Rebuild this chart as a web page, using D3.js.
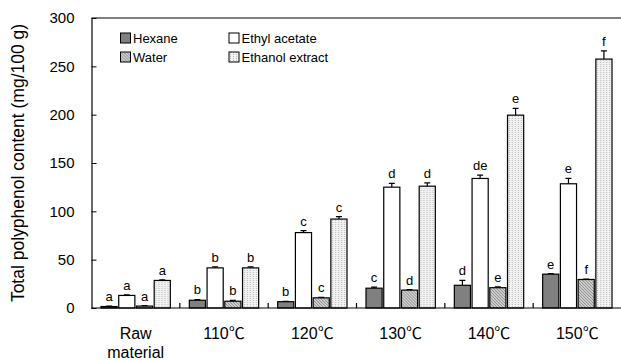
<!DOCTYPE html>
<html>
<head>
<meta charset="utf-8">
<script src="https://cdn.jsdelivr.net/npm/d3@7"></script>
<style>
  body { margin: 0; background: #fff; }
  text { font-family: "Liberation Sans", Arial, "Noto Sans CJK SC", sans-serif; fill: #000; }
  .cjk { font-family: "Noto Sans CJK JP", "Noto Sans CJK SC", sans-serif; }
</style>
</head>
<body>
<div id="chart"></div>
<script>
// data
var categories = ["Raw material", "110℃", "120℃", "130℃", "140℃", "150℃"];
var seriesNames = ["Hexane", "Ethyl acetate", "Water", "Ethanol extract"];

var hexane = [1.5, 8, 6.5, 20.5, 23.5, 35];
var ethyl = [13, 41.5, 78, 125, 134, 128.5];
var water = [2, 7, 10.5, 18.5, 21, 29.5];
var ethanol = [28.5, 41.5, 92, 126, 199.5, 257.5];

var hexaneErr = [0.5, 0.8, 0.5, 1, 5, 0.5];
var ethylErr = [0.5, 1, 2, 4, 3.5, 5.5];
var waterErr = [0.5, 0.8, 0.5, 0.5, 1, 0.5];
var ethanolErr = [0.5, 1, 2.5, 3.5, 7, 8.5];

var hexaneSig = ["a", "b", "b", "c", "d", "e"];
var ethylSig = ["a", "b", "c", "d", "de", "e"];
var waterSig = ["a", "b", "c", "d", "e", "f"];
var ethanolSig = ["a", "b", "c", "d", "e", "f"];

var yTicks = [0, 50, 100, 150, 200, 250, 300];

var svgWidth = 621;
var svgHeight = 360;

var margin = { top: 18, right: 0, bottom: 52, left: 91.5 };
var chartWidth = 530;
var chartHeight = svgHeight - margin.top - margin.bottom;

var svg = d3.select("#chart")
  .append("svg")
  .attr("width", svgWidth)
  .attr("height", svgHeight);

// fill patterns
var defs = svg.append("defs");

var hatch = defs.append("pattern")
  .attr("id", "hatch")
  .attr("patternUnits", "userSpaceOnUse")
  .attr("width", 3).attr("height", 3);
hatch.append("rect").attr("width", 3).attr("height", 3).attr("fill", "#d0d0d0");
hatch.append("path").attr("d", "M0,0 L3,3 M-1,2 L1,4 M2,-1 L4,1")
  .attr("stroke", "#8a8a8a").attr("stroke-width", 1);

var stripes = defs.append("pattern")
  .attr("id", "stripes")
  .attr("patternUnits", "userSpaceOnUse")
  .attr("width", 3).attr("height", 2);
stripes.append("rect").attr("width", 3).attr("height", 2).attr("fill", "#f2f2f2");
stripes.append("rect").attr("x", 1).attr("width", 1).attr("height", 1).attr("fill", "#b8b8b8");

var fills = ["#808080", "#ffffff", "url(#hatch)", "url(#stripes)"];

var values = [hexane, ethyl, water, ethanol];
var errors = [hexaneErr, ethylErr, waterErr, ethanolErr];
var sigs = [hexaneSig, ethylSig, waterSig, ethanolSig];

var chartGroup = svg.append("g")
  .attr("transform", `translate(${margin.left}, ${margin.top})`);

// scales
var x0 = d3.scaleBand()
  .domain(categories)
  .range([0, chartWidth]);

var x1 = d3.scaleBand()
  .domain(seriesNames)
  .range([9.5, x0.bandwidth() - 9.5])
  .paddingInner(0.09);

var y = d3.scaleLinear()
  .domain([0, 300])
  .range([chartHeight, 0]);

// frame top line
chartGroup.append("line")
  .attr("x1", 0).attr("x2", chartWidth + 2)
  .attr("y1", 0).attr("y2", 0)
  .attr("stroke", "#000").attr("stroke-width", 1.2);

// y axis, ticks pointing in
var leftAxis = d3.axisLeft(y)
  .tickValues(yTicks)
  .tickSizeInner(-5)
  .tickSizeOuter(0)
  .tickPadding(17);

var yAxisG = chartGroup.append("g").call(leftAxis);
yAxisG.select(".domain").attr("stroke-width", 1.2);
yAxisG.selectAll("text").attr("font-size", 15);

// bars
var groups = chartGroup.selectAll(".cat")
  .data(categories)
  .enter()
  .append("g")
  .attr("transform", d => `translate(${x0(d)}, 0)`);

var barData = function(cat, i) {
  return seriesNames.map(function(s, k) {
    return { series: s, k: k, value: values[k][i], err: errors[k][i], sig: sigs[k][i] };
  });
};

groups.each(function(cat, i) {
  var g = d3.select(this);
  var data = barData(cat, i);

  // error bars (upper only)
  g.selectAll(".err")
    .data(data)
    .enter()
    .append("path")
    .attr("d", function(d) {
      var cx = x1(d.series) + x1.bandwidth() / 2;
      var top = y(d.value + d.err);
      return `M${cx},${y(d.value)}V${top}M${cx - 3},${top}H${cx + 3}`;
    })
    .attr("stroke", "#000")
    .attr("stroke-width", 1.2)
    .attr("fill", "none");

  g.selectAll(".bar")
    .data(data)
    .enter()
    .append("rect")
    .attr("x", d => x1(d.series))
    .attr("y", d => y(d.value))
    .attr("width", x1.bandwidth())
    .attr("height", d => chartHeight - y(d.value))
    .attr("fill", d => fills[d.k])
    .attr("stroke", "#000")
    .attr("stroke-width", 1.2);

  g.selectAll(".sig")
    .data(data)
    .enter()
    .append("text")
    .attr("x", d => x1(d.series) + x1.bandwidth() / 2)
    .attr("y", d => y(d.value + d.err) - 5)
    .attr("text-anchor", "middle")
    .attr("font-size", 13)
    .text(d => d.sig);
});

// x axis
chartGroup.append("line")
  .attr("x1", 0).attr("x2", chartWidth + 2)
  .attr("y1", chartHeight).attr("y2", chartHeight)
  .attr("stroke", "#000").attr("stroke-width", 1.2);

chartGroup.selectAll(".xtick")
  .data(categories.slice(1))
  .enter()
  .append("line")
  .attr("x1", d => x0(d)).attr("x2", d => x0(d))
  .attr("y1", chartHeight).attr("y2", chartHeight - 5)
  .attr("stroke", "#000").attr("stroke-width", 1.2);

var xLabels = chartGroup.selectAll(".xlabel")
  .data(categories)
  .enter()
  .append("text")
  .attr("text-anchor", "middle")
  .attr("font-size", 16)
  .attr("transform", d => `translate(${x0(d) + x0.bandwidth() / 2}, ${chartHeight + 31})`);

xLabels.each(function(d) {
  var t = d3.select(this);
  if (d.indexOf("℃") >= 0) {
    t.append("tspan").text(d.replace("℃", ""));
    t.append("tspan").attr("class", "cjk").text("℃");
    return;
  }
  d.split(" ").forEach(function(p, j) {
    t.append("tspan").attr("x", 0).attr("dy", j === 0 ? 0 : 19).text(p);
  });
});

// y title
svg.append("text")
  .attr("transform", "translate(24, 163) rotate(-90)")
  .attr("text-anchor", "middle")
  .attr("font-size", 17.5)
  .text("Total polyphenol content (mg/100 g)");

// legend
var legendPos = [[120.5, 33], [229, 33], [120.5, 52], [229, 52]];

var legend = svg.selectAll(".legend")
  .data(seriesNames)
  .enter()
  .append("g")
  .attr("transform", (d, i) => `translate(${legendPos[i][0]}, ${legendPos[i][1]})`);

legend.append("rect")
  .attr("width", 10).attr("height", 10)
  .attr("fill", (d, i) => fills[i])
  .attr("stroke", "#000")
  .attr("stroke-width", 1);

legend.append("text")
  .attr("x", 12.5)
  .attr("y", 10)
  .attr("font-size", 13)
  .text(d => d);
</script>
</body>
</html>
